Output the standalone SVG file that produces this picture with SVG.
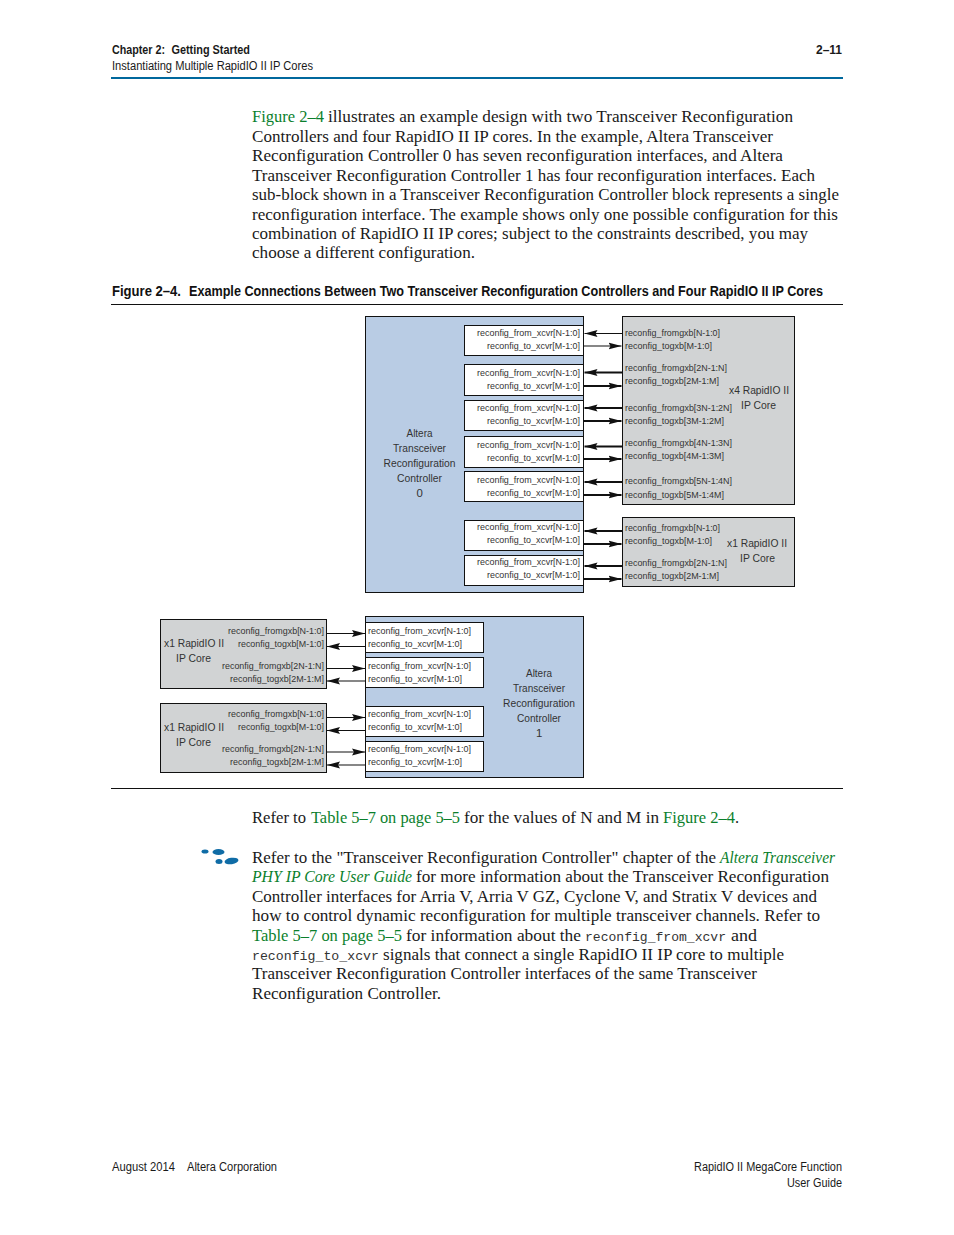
<svg xmlns="http://www.w3.org/2000/svg" width="954" height="1235" viewBox="0 0 954 1235">
<style>
.b{font:16.3px "Liberation Serif",serif;fill:#1a1a1a}
.g{fill:#0b7f2c}
.i{font-style:italic}
.m{font:13.5px "Liberation Mono",monospace;fill:#333}
.h{font:12px "Liberation Sans",sans-serif;fill:#1a1a1a}
.hb{font-weight:bold}
.t{font:bold 14px "Liberation Sans",sans-serif;fill:#111}
.l{font:9.6px "Liberation Sans",sans-serif;fill:#333}
.c{font:11.4px "Liberation Sans",sans-serif;fill:#333}
.blue{fill:#b9cce4;stroke:#111;stroke-width:1}
.gray{fill:#d1d3d4;stroke:#111;stroke-width:1}
.white{fill:#fff;stroke:#111;stroke-width:1}
.w{stroke:#111;stroke-width:1.2;fill:none}
.w2{stroke:#111;stroke-width:1.8;fill:none}
.ah{fill:#111}
</style>
<defs>
<marker id="a" markerUnits="userSpaceOnUse" markerWidth="14" markerHeight="8" refX="13" refY="4" orient="auto"><path class="ah" d="M0 0.500L13 4L0 7.500L2 4Z"/></marker>
</defs>
<g id="page-header">
<text class="h hb" x="112" y="54" textLength="53" lengthAdjust="spacingAndGlyphs">Chapter 2:</text>
<text class="h hb" x="171.500" y="54" textLength="78.500" lengthAdjust="spacingAndGlyphs">Getting Started</text>
<text class="h" x="112" y="70" textLength="201" lengthAdjust="spacingAndGlyphs">Instantiating Multiple RapidIO II IP Cores</text>
<text class="h hb" x="816" y="54" textLength="26" lengthAdjust="spacingAndGlyphs">2–11</text>
<rect x="111" y="77" width="732" height="2" fill="#00689d"/>
</g>
<g id="intro-text">
<text class="b g" x="252" y="122" textLength="72" lengthAdjust="spacingAndGlyphs">Figure 2–4</text>
<text class="b" x="328" y="122" textLength="465" lengthAdjust="spacingAndGlyphs">illustrates an example design with two Transceiver Reconfiguration</text>
<text class="b" x="252" y="141.500" textLength="521" lengthAdjust="spacingAndGlyphs">Controllers and four RapidIO II IP cores. In the example, Altera Transceiver</text>
<text class="b" x="252" y="161" textLength="531" lengthAdjust="spacingAndGlyphs">Reconfiguration Controller 0 has seven reconfiguration interfaces, and Altera</text>
<text class="b" x="252" y="180.500" textLength="563" lengthAdjust="spacingAndGlyphs">Transceiver Reconfiguration Controller 1 has four reconfiguration interfaces. Each</text>
<text class="b" x="252" y="200" textLength="587" lengthAdjust="spacingAndGlyphs">sub-block shown in a Transceiver Reconfiguration Controller block represents a single</text>
<text class="b" x="252" y="219.500" textLength="586" lengthAdjust="spacingAndGlyphs">reconfiguration interface. The example shows only one possible configuration for this</text>
<text class="b" x="252" y="239" textLength="556" lengthAdjust="spacingAndGlyphs">combination of RapidIO II IP cores; subject to the constraints described, you may</text>
<text class="b" x="252" y="258" textLength="223" lengthAdjust="spacingAndGlyphs">choose a different configuration.</text>
</g>
<g id="figure-title">
<text class="t" x="112" y="296" textLength="69" lengthAdjust="spacingAndGlyphs">Figure 2–4.</text>
<text class="t" x="189" y="296" textLength="634" lengthAdjust="spacingAndGlyphs">Example Connections Between Two Transceiver Reconfiguration Controllers and Four RapidIO II IP Cores</text>
<line x1="111" y1="304.500" x2="843" y2="304.500" stroke="#111"/>
</g>
<g id="controller-0">
<rect class="blue" x="365.500" y="316.500" width="218" height="276"/>
<text class="c" x="406.500" y="437" textLength="26" lengthAdjust="spacingAndGlyphs">Altera</text>
<text class="c" x="393" y="452" textLength="53" lengthAdjust="spacingAndGlyphs">Transceiver</text>
<text class="c" x="383.500" y="467" textLength="72" lengthAdjust="spacingAndGlyphs">Reconfiguration</text>
<text class="c" x="397" y="482" textLength="45" lengthAdjust="spacingAndGlyphs">Controller</text>
<text class="c" x="416.500" y="497">0</text>
<rect class="white" x="464.500" y="325.500" width="119" height="30"/>
<text class="l" x="477" y="336" textLength="103" lengthAdjust="spacingAndGlyphs">reconfig_from_xcvr[N-1:0]</text>
<text class="l" x="487" y="349" textLength="93" lengthAdjust="spacingAndGlyphs">reconfig_to_xcvr[M-1:0]</text>
<rect class="white" x="464.500" y="364.500" width="119" height="31"/>
<text class="l" x="477" y="376" textLength="103" lengthAdjust="spacingAndGlyphs">reconfig_from_xcvr[N-1:0]</text>
<text class="l" x="487" y="389" textLength="93" lengthAdjust="spacingAndGlyphs">reconfig_to_xcvr[M-1:0]</text>
<rect class="white" x="464.500" y="400.500" width="119" height="30"/>
<text class="l" x="477" y="411" textLength="103" lengthAdjust="spacingAndGlyphs">reconfig_from_xcvr[N-1:0]</text>
<text class="l" x="487" y="424" textLength="93" lengthAdjust="spacingAndGlyphs">reconfig_to_xcvr[M-1:0]</text>
<rect class="white" x="464.500" y="436.500" width="119" height="31"/>
<text class="l" x="477" y="448" textLength="103" lengthAdjust="spacingAndGlyphs">reconfig_from_xcvr[N-1:0]</text>
<text class="l" x="487" y="461" textLength="93" lengthAdjust="spacingAndGlyphs">reconfig_to_xcvr[M-1:0]</text>
<rect class="white" x="464.500" y="471.500" width="119" height="30"/>
<text class="l" x="477" y="483" textLength="103" lengthAdjust="spacingAndGlyphs">reconfig_from_xcvr[N-1:0]</text>
<text class="l" x="487" y="496" textLength="93" lengthAdjust="spacingAndGlyphs">reconfig_to_xcvr[M-1:0]</text>
<rect class="white" x="464.500" y="520.500" width="119" height="30"/>
<text class="l" x="477" y="530" textLength="103" lengthAdjust="spacingAndGlyphs">reconfig_from_xcvr[N-1:0]</text>
<text class="l" x="487" y="543" textLength="93" lengthAdjust="spacingAndGlyphs">reconfig_to_xcvr[M-1:0]</text>
<rect class="white" x="464.500" y="555.500" width="119" height="30"/>
<text class="l" x="477" y="565" textLength="103" lengthAdjust="spacingAndGlyphs">reconfig_from_xcvr[N-1:0]</text>
<text class="l" x="487" y="578" textLength="93" lengthAdjust="spacingAndGlyphs">reconfig_to_xcvr[M-1:0]</text>
</g>
<g id="x4-core">
<rect class="gray" x="622.500" y="316.500" width="172" height="188"/>
<text class="c" x="729" y="394" textLength="60" lengthAdjust="spacingAndGlyphs">x4 RapidIO II</text>
<text class="c" x="741" y="409" textLength="35" lengthAdjust="spacingAndGlyphs">IP Core</text>
<text class="l" x="625" y="335.500" textLength="95" lengthAdjust="spacingAndGlyphs">reconfig_fromgxb[N-1:0]</text>
<text class="l" x="625" y="348.500" textLength="87" lengthAdjust="spacingAndGlyphs">reconfig_togxb[M-1:0]</text>
<text class="l" x="625" y="370.500" textLength="102" lengthAdjust="spacingAndGlyphs">reconfig_fromgxb[2N-1:N]</text>
<text class="l" x="625" y="383.500" textLength="94" lengthAdjust="spacingAndGlyphs">reconfig_togxb[2M-1:M]</text>
<text class="l" x="625" y="410.500" textLength="107" lengthAdjust="spacingAndGlyphs">reconfig_fromgxb[3N-1:2N]</text>
<text class="l" x="625" y="423.500" textLength="99" lengthAdjust="spacingAndGlyphs">reconfig_togxb[3M-1:2M]</text>
<text class="l" x="625" y="445.500" textLength="107" lengthAdjust="spacingAndGlyphs">reconfig_fromgxb[4N-1:3N]</text>
<text class="l" x="625" y="458.500" textLength="99" lengthAdjust="spacingAndGlyphs">reconfig_togxb[4M-1:3M]</text>
<text class="l" x="625" y="483.500" textLength="107" lengthAdjust="spacingAndGlyphs">reconfig_fromgxb[5N-1:4N]</text>
<text class="l" x="625" y="497.500" textLength="99" lengthAdjust="spacingAndGlyphs">reconfig_togxb[5M-1:4M]</text>
</g>
<g id="x1-core-a">
<rect class="gray" x="622.500" y="517.500" width="172" height="69"/>
<text class="c" x="727" y="547" textLength="60" lengthAdjust="spacingAndGlyphs">x1 RapidIO II</text>
<text class="c" x="740" y="562" textLength="35" lengthAdjust="spacingAndGlyphs">IP Core</text>
<text class="l" x="625" y="530.500" textLength="95" lengthAdjust="spacingAndGlyphs">reconfig_fromgxb[N-1:0]</text>
<text class="l" x="625" y="543.500" textLength="87" lengthAdjust="spacingAndGlyphs">reconfig_togxb[M-1:0]</text>
<text class="l" x="625" y="565.500" textLength="102" lengthAdjust="spacingAndGlyphs">reconfig_fromgxb[2N-1:N]</text>
<text class="l" x="625" y="578.500" textLength="94" lengthAdjust="spacingAndGlyphs">reconfig_togxb[2M-1:M]</text>
</g>
<g id="x1-core-b">
<rect class="gray" x="160.500" y="619.500" width="166" height="69"/>
<text class="c" x="164" y="647" textLength="60" lengthAdjust="spacingAndGlyphs">x1 RapidIO II</text>
<text class="c" x="176" y="662" textLength="35" lengthAdjust="spacingAndGlyphs">IP Core</text>
<text class="l" x="228" y="633.500" textLength="96" lengthAdjust="spacingAndGlyphs">reconfig_fromgxb[N-1:0]</text>
<text class="l" x="238" y="646.500" textLength="86" lengthAdjust="spacingAndGlyphs">reconfig_togxb[M-1:0]</text>
<text class="l" x="222" y="668.500" textLength="102" lengthAdjust="spacingAndGlyphs">reconfig_fromgxb[2N-1:N]</text>
<text class="l" x="230" y="681.500" textLength="94" lengthAdjust="spacingAndGlyphs">reconfig_togxb[2M-1:M]</text>
</g>
<g id="x1-core-c">
<rect class="gray" x="160.500" y="703.500" width="166" height="69"/>
<text class="c" x="164" y="731" textLength="60" lengthAdjust="spacingAndGlyphs">x1 RapidIO II</text>
<text class="c" x="176" y="746" textLength="35" lengthAdjust="spacingAndGlyphs">IP Core</text>
<text class="l" x="228" y="716.500" textLength="96" lengthAdjust="spacingAndGlyphs">reconfig_fromgxb[N-1:0]</text>
<text class="l" x="238" y="729.500" textLength="86" lengthAdjust="spacingAndGlyphs">reconfig_togxb[M-1:0]</text>
<text class="l" x="222" y="751.500" textLength="102" lengthAdjust="spacingAndGlyphs">reconfig_fromgxb[2N-1:N]</text>
<text class="l" x="230" y="764.500" textLength="94" lengthAdjust="spacingAndGlyphs">reconfig_togxb[2M-1:M]</text>
</g>
<g id="controller-1">
<rect class="blue" x="365.500" y="616.500" width="218" height="161"/>
<text class="c" x="526" y="677" textLength="26" lengthAdjust="spacingAndGlyphs">Altera</text>
<text class="c" x="513" y="692" textLength="52" lengthAdjust="spacingAndGlyphs">Transceiver</text>
<text class="c" x="503" y="707" textLength="72" lengthAdjust="spacingAndGlyphs">Reconfiguration</text>
<text class="c" x="517" y="722" textLength="44" lengthAdjust="spacingAndGlyphs">Controller</text>
<text class="c" x="536" y="737">1</text>
<rect class="white" x="365.500" y="622.500" width="118" height="30"/>
<text class="l" x="368" y="633.500" textLength="103" lengthAdjust="spacingAndGlyphs">reconfig_from_xcvr[N-1:0]</text>
<text class="l" x="368" y="646.500" textLength="94" lengthAdjust="spacingAndGlyphs">reconfig_to_xcvr[M-1:0]</text>
<rect class="white" x="365.500" y="657.500" width="118" height="30"/>
<text class="l" x="368" y="668.500" textLength="103" lengthAdjust="spacingAndGlyphs">reconfig_from_xcvr[N-1:0]</text>
<text class="l" x="368" y="681.500" textLength="94" lengthAdjust="spacingAndGlyphs">reconfig_to_xcvr[M-1:0]</text>
<rect class="white" x="365.500" y="706.500" width="118" height="30"/>
<text class="l" x="368" y="716.500" textLength="103" lengthAdjust="spacingAndGlyphs">reconfig_from_xcvr[N-1:0]</text>
<text class="l" x="368" y="729.500" textLength="94" lengthAdjust="spacingAndGlyphs">reconfig_to_xcvr[M-1:0]</text>
<rect class="white" x="365.500" y="741.500" width="118" height="30"/>
<text class="l" x="368" y="751.500" textLength="103" lengthAdjust="spacingAndGlyphs">reconfig_from_xcvr[N-1:0]</text>
<text class="l" x="368" y="764.500" textLength="94" lengthAdjust="spacingAndGlyphs">reconfig_to_xcvr[M-1:0]</text>
</g>
<g id="connectors">
<path class="w" marker-end="url(#a)" d="M622 333.500H584.500"/>
<path class="w" marker-end="url(#a)" d="M584 346H621.500"/>
<path class="w2" marker-end="url(#a)" d="M622 372.500H584.500"/>
<path class="w2" marker-end="url(#a)" d="M584 386H621.500"/>
<path class="w2" marker-end="url(#a)" d="M622 408H584.500"/>
<path class="w2" marker-end="url(#a)" d="M584 421H621.500"/>
<path class="w2" marker-end="url(#a)" d="M622 446.500H584.500"/>
<path class="w2" marker-end="url(#a)" d="M584 459H621.500"/>
<path class="w2" marker-end="url(#a)" d="M622 482H584.500"/>
<path class="w2" marker-end="url(#a)" d="M584 495H621.500"/>
<path class="w2" marker-end="url(#a)" d="M622 531H584.500"/>
<path class="w2" marker-end="url(#a)" d="M584 544H621.500"/>
<path class="w2" marker-end="url(#a)" d="M622 566H584.500"/>
<path class="w2" marker-end="url(#a)" d="M584 579H621.500"/>
<path class="w" marker-end="url(#a)" d="M327 633.500H365"/>
<path class="w" marker-end="url(#a)" d="M365 646.500H327"/>
<path class="w" marker-end="url(#a)" d="M327 668.500H365"/>
<path class="w" marker-end="url(#a)" d="M365 681H327"/>
<path class="w" marker-end="url(#a)" d="M327 717.500H365"/>
<path class="w" marker-end="url(#a)" d="M365 730.500H327"/>
<path class="w" marker-end="url(#a)" d="M327 752H365"/>
<path class="w" marker-end="url(#a)" d="M365 765H327"/>
</g>
<line x1="111" y1="788.500" x2="843" y2="788.500" stroke="#111"/>
<g id="refer-text">
<text class="b" x="252" y="823" textLength="54" lengthAdjust="spacingAndGlyphs">Refer to</text>
<text class="b g" x="311" y="823" textLength="149" lengthAdjust="spacingAndGlyphs">Table 5–7 on page 5–5</text>
<text class="b" x="464" y="823" textLength="195" lengthAdjust="spacingAndGlyphs">for the values of N and M in</text>
<text class="b g" x="663" y="823" textLength="72" lengthAdjust="spacingAndGlyphs">Figure 2–4</text>
<text class="b" x="735" y="823">.</text>
</g>
<g id="note-icon" fill="#0f6ca6">
<ellipse cx="205" cy="851.500" rx="3.500" ry="2"/>
<ellipse cx="218.500" cy="852" rx="6" ry="3"/>
<ellipse cx="219" cy="861.500" rx="3.500" ry="2.500"/>
<ellipse cx="231.500" cy="861" rx="7" ry="3.200" transform="rotate(-8 231.500 861)"/>
</g>
<g id="note-text">
<text class="b" x="252" y="863" textLength="464" lengthAdjust="spacingAndGlyphs">Refer to the "Transceiver Reconfiguration Controller" chapter of the</text>
<text class="b g i" x="720" y="863" textLength="115" lengthAdjust="spacingAndGlyphs">Altera Transceiver</text>
<text class="b g i" x="252" y="882" textLength="160" lengthAdjust="spacingAndGlyphs">PHY IP Core User Guide</text>
<text class="b" x="416" y="882" textLength="413" lengthAdjust="spacingAndGlyphs">for more information about the Transceiver Reconfiguration</text>
<text class="b" x="252" y="902" textLength="565" lengthAdjust="spacingAndGlyphs">Controller interfaces for Arria V, Arria V GZ, Cyclone V, and Stratix V devices and</text>
<text class="b" x="252" y="921" textLength="568" lengthAdjust="spacingAndGlyphs">how to control dynamic reconfiguration for multiple transceiver channels. Refer to</text>
<text class="b g" x="252" y="941" textLength="150" lengthAdjust="spacingAndGlyphs">Table 5–7 on page 5–5</text>
<text class="b" x="406" y="941" textLength="175" lengthAdjust="spacingAndGlyphs">for information about the</text>
<text class="m" x="585" y="941" textLength="141" lengthAdjust="spacingAndGlyphs">reconfig_from_xcvr</text>
<text class="b" x="731" y="941" textLength="26" lengthAdjust="spacingAndGlyphs">and</text>
<text class="m" x="252" y="960" textLength="127" lengthAdjust="spacingAndGlyphs">reconfig_to_xcvr</text>
<text class="b" x="383" y="960" textLength="401" lengthAdjust="spacingAndGlyphs">signals that connect a single RapidIO II IP core to multiple</text>
<text class="b" x="252" y="979" textLength="505" lengthAdjust="spacingAndGlyphs">Transceiver Reconfiguration Controller interfaces of the same Transceiver</text>
<text class="b" x="252" y="999" textLength="189" lengthAdjust="spacingAndGlyphs">Reconfiguration Controller.</text>
</g>
<g id="page-footer">
<text class="h" x="112" y="1171" textLength="63" lengthAdjust="spacingAndGlyphs">August 2014</text>
<text class="h" x="187" y="1171" textLength="90" lengthAdjust="spacingAndGlyphs">Altera Corporation</text>
<text class="h" x="694" y="1171" textLength="148" lengthAdjust="spacingAndGlyphs">RapidIO II MegaCore Function</text>
<text class="h" x="787" y="1187" textLength="55" lengthAdjust="spacingAndGlyphs">User Guide</text>
</g>
</svg>
